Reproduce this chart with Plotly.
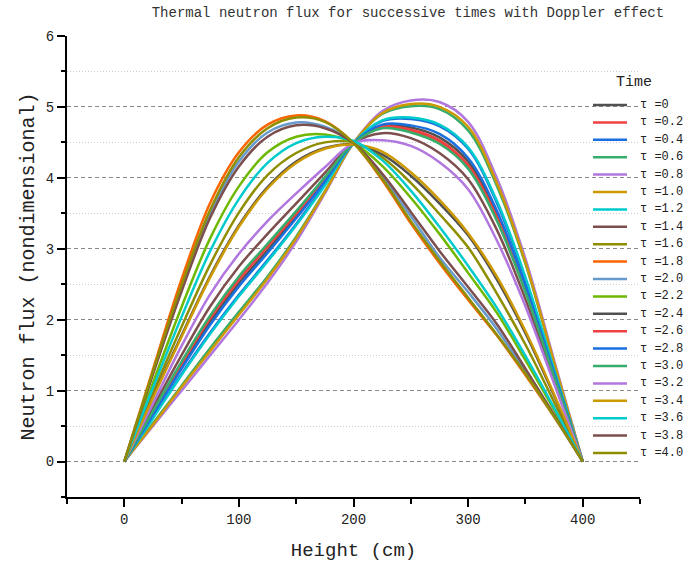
import plotly.graph_objects as go

# Height positions (cm)
height_cm = [0, 25, 50, 75, 100, 125, 150, 175, 200, 225, 250, 275, 300, 325, 350, 375, 400]

tau_labels = ["τ =0", "τ =0.2", "τ =0.4", "τ =0.6", "τ =0.8", "τ =1.0", "τ =1.2",
              "τ =1.4", "τ =1.6", "τ =1.8", "τ =2.0", "τ =2.2", "τ =2.4", "τ =2.6",
              "τ =2.8", "τ =3.0", "τ =3.2", "τ =3.4", "τ =3.6", "τ =3.8", "τ =4.0"]

flux_t00 = [0, 0.68, 1.35, 1.97, 2.51, 2.98, 3.46, 3.97, 4.49, 4.73, 4.71, 4.57, 4.23, 3.49, 2.45, 1.23, 0]
flux_t02 = [0, 0.69, 1.38, 2.02, 2.56, 3.03, 3.49, 3.99, 4.49, 4.72, 4.68, 4.53, 4.18, 3.45, 2.42, 1.22, 0]
flux_t04 = [0, 0.62, 1.24, 1.82, 2.35, 2.84, 3.35, 3.91, 4.49, 4.80, 4.83, 4.73, 4.41, 3.65, 2.56, 1.28, 0]
flux_t06 = [0, 0.54, 1.07, 1.60, 2.11, 2.61, 3.17, 3.81, 4.49, 4.90, 5.01, 4.97, 4.67, 3.89, 2.79, 1.39, 0]
flux_t08 = [0, 0.50, 1.00, 1.50, 2.00, 2.52, 3.10, 3.78, 4.49, 4.94, 5.09, 5.07, 4.79, 4.00, 2.86, 1.43, 0]
flux_t10 = [0, 0.52, 1.05, 1.56, 2.07, 2.58, 3.15, 3.80, 4.49, 4.91, 5.04, 5.00, 4.72, 3.93, 2.81, 1.40, 0]
flux_t12 = [0, 0.61, 1.22, 1.80, 2.33, 2.82, 3.33, 3.89, 4.49, 4.81, 4.85, 4.75, 4.43, 3.68, 2.60, 1.30, 0]
flux_t14 = [0, 0.76, 1.50, 2.19, 2.75, 3.21, 3.64, 4.07, 4.49, 4.63, 4.56, 4.35, 3.98, 3.27, 2.29, 1.15, 0]
flux_t16 = [0, 0.97, 1.90, 2.78, 3.51, 4.04, 4.35, 4.50, 4.50, 4.29, 3.93, 3.49, 3.02, 2.37, 1.65, 0.84, 0]
flux_t18 = [0, 1.30, 2.57, 3.65, 4.36, 4.75, 4.88, 4.80, 4.49, 3.97, 3.36, 2.80, 2.28, 1.78, 1.22, 0.63, 0]
flux_t20 = [0, 1.25, 2.45, 3.50, 4.23, 4.64, 4.78, 4.72, 4.49, 4.02, 3.46, 2.88, 2.39, 1.87, 1.26, 0.64, 0]
flux_t22 = [0, 1.11, 2.18, 3.15, 3.88, 4.36, 4.58, 4.61, 4.49, 4.17, 3.72, 3.21, 2.66, 2.10, 1.43, 0.73, 0]
flux_t24 = [0, 0.91, 1.78, 2.62, 3.33, 3.87, 4.23, 4.42, 4.47, 4.33, 4.03, 3.64, 3.19, 2.57, 1.81, 0.93, 0]
flux_t26 = [0, 0.70, 1.39, 2.04, 2.58, 3.05, 3.51, 4.00, 4.49, 4.71, 4.66, 4.50, 4.16, 3.43, 2.41, 1.21, 0]
flux_t28 = [0, 0.66, 1.31, 1.93, 2.47, 2.94, 3.43, 3.95, 4.49, 4.75, 4.74, 4.62, 4.28, 3.54, 2.48, 1.25, 0]
flux_t30 = [0, 0.71, 1.41, 2.06, 2.61, 3.07, 3.53, 4.01, 4.49, 4.70, 4.64, 4.48, 4.13, 3.40, 2.39, 1.20, 0]
flux_t32 = [0, 0.82, 1.63, 2.36, 2.93, 3.39, 3.78, 4.15, 4.49, 4.53, 4.45, 4.22, 3.84, 3.12, 2.19, 1.10, 0]
flux_t34 = [0, 0.90, 1.76, 2.60, 3.31, 3.85, 4.21, 4.41, 4.47, 4.37, 4.08, 3.69, 3.22, 2.61, 1.84, 0.95, 0]
flux_t36 = [0, 1.04, 2.04, 2.97, 3.70, 4.21, 4.49, 4.58, 4.52, 4.25, 3.82, 3.31, 2.76, 2.17, 1.49, 0.76, 0]
flux_t38 = [0, 1.23, 2.40, 3.44, 4.16, 4.58, 4.74, 4.70, 4.49, 4.06, 3.52, 2.97, 2.46, 1.94, 1.31, 0.66, 0]
flux_t40 = [0, 1.27, 2.49, 3.55, 4.29, 4.70, 4.85, 4.79, 4.49, 3.99, 3.39, 2.83, 2.31, 1.79, 1.24, 0.64, 0]

series = [flux_t00, flux_t02, flux_t04, flux_t06, flux_t08, flux_t10, flux_t12,
          flux_t14, flux_t16, flux_t18, flux_t20, flux_t22, flux_t24, flux_t26,
          flux_t28, flux_t30, flux_t32, flux_t34, flux_t36, flux_t38, flux_t40]

palette = ["#515151", "#F14040", "#1A6FDF", "#37AD6B", "#B177DE", "#CC9900",
           "#00CBCC", "#7D4E4E", "#8E8E00", "#FB6501", "#6699CC", "#6FB802"]

MONO = "Liberation Mono"
TXT = "#222222"

# plot-area geometry (pixels) used to place the hand-built legend
PL, PR, PT, PB = 67, 640, 36, 497


def px_x(px):
    return (px - PL) / (PR - PL)


def px_y(py):
    return (PB - py) / (PB - PT)


fig = go.Figure()
for i, (lab, ys) in enumerate(zip(tau_labels, series)):
    fig.add_trace(go.Scatter(
        x=height_cm, y=ys, name=lab, mode="lines", showlegend=False,
        line=dict(color=palette[i % len(palette)], width=2.5, shape="spline", smoothing=1.0),
    ))

# legend (line samples + labels) built in paper coordinates
shapes, annotations = [], []
row0, row_step = 105, 17.4
for i, lab in enumerate(tau_labels):
    yy = px_y(row0 + i * row_step)
    shapes.append(dict(type="line", xref="paper", yref="paper",
                       x0=px_x(593), x1=px_x(627), y0=yy, y1=yy,
                       line=dict(color=palette[i % len(palette)], width=2.5)))
    annotations.append(dict(text=lab, xref="paper", yref="paper", x=px_x(638), y=yy,
                            xanchor="left", yanchor="middle", showarrow=False,
                            font=dict(family=MONO, size=12, color=TXT)))
annotations.append(dict(text="Time", xref="paper", yref="paper", x=px_x(634), y=px_y(83),
                        xanchor="center", yanchor="middle", showarrow=False,
                        font=dict(family=MONO, size=15, color=TXT)))

fig.update_layout(
    width=699, height=568,
    margin=dict(l=PL, r=699 - PR, t=PT, b=568 - PB),
    paper_bgcolor="white", plot_bgcolor="white",
    showlegend=False,
    title=dict(text="Thermal neutron flux for successive times with Doppler effect",
               x=0.595, xanchor="center", xref="paper",
               y=1 - 12 / 568, yref="container", yanchor="middle",
               font=dict(family=MONO, size=14, color="#333333")),
    font=dict(family=MONO, color=TXT),
    xaxis=dict(
        range=[-50, 450], tick0=0, dtick=100, showgrid=False, zeroline=False,
        showline=True, linecolor="black", linewidth=2,
        ticks="outside", ticklen=8, tickwidth=1.5, tickcolor="black",
        tickfont=dict(family=MONO, size=14, color=TXT),
        minor=dict(tick0=-50, dtick=50, ticks="outside", ticklen=5, tickwidth=1.5,
                   tickcolor="black", showgrid=False),
        title=dict(text="Height (cm)", font=dict(family=MONO, size=19, color=TXT),
                   standoff=16),
    ),
    yaxis=dict(
        range=[-0.5, 6], tick0=0, dtick=1, zeroline=False,
        showgrid=True, gridcolor="#8a8a8a", gridwidth=1, griddash="4px,3px",
        showline=True, linecolor="black", linewidth=2,
        ticks="outside", ticklen=8, tickwidth=1.5, tickcolor="black",
        tickfont=dict(family=MONO, size=14, color=TXT),
        minor=dict(tick0=0, dtick=0.5, ticks="outside", ticklen=4, tickwidth=1.5,
                   tickcolor="black", showgrid=True, gridcolor="#cccccc",
                   griddash="1px,2px", gridwidth=1),
        title=dict(text="Neutron flux (nondimensional)",
                   font=dict(family=MONO, size=20, color=TXT), standoff=6),
    ),
    shapes=shapes,
    annotations=annotations,
)

fig.write_html("out.html")
